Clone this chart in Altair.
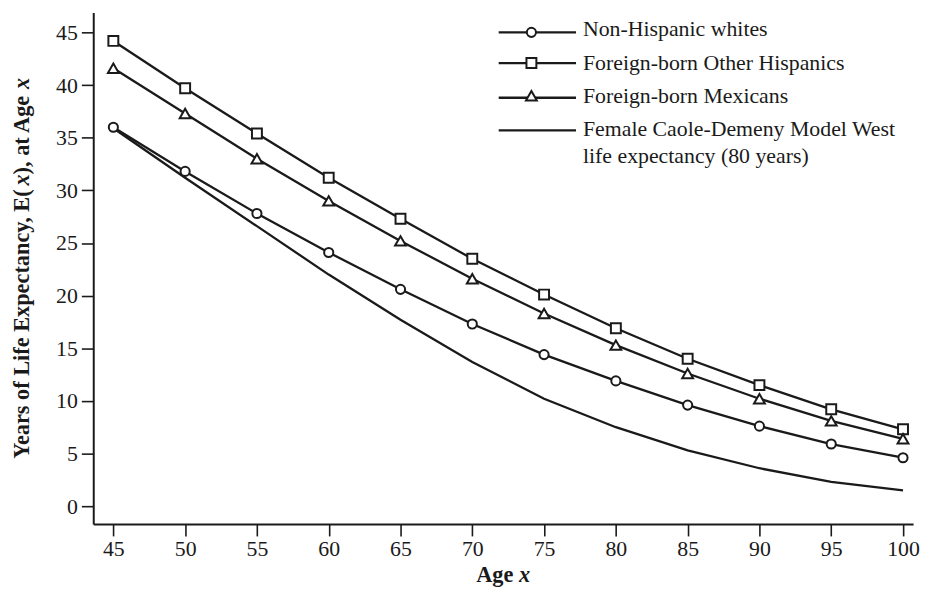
import altair as alt
import pandas as pd

ages = [45, 50, 55, 60, 65, 70, 75, 80, 85, 90, 95, 100]
nh_whites = [36.0, 31.8, 27.8, 24.1, 20.6, 17.3, 14.4, 11.9, 9.6, 7.6, 5.9, 4.6]
fb_other_hisp = [44.2, 39.7, 35.4, 31.2, 27.3, 23.5, 20.1, 16.9, 14.0, 11.5, 9.2, 7.3]
fb_mexicans = [41.6, 37.3, 33.0, 29.0, 25.2, 21.6, 18.3, 15.3, 12.6, 10.2, 8.1, 6.4]
model_west = [35.9, 31.2, 26.6, 22.0, 17.7, 13.7, 10.2, 7.5, 5.3, 3.6, 2.3, 1.5]

series_names = [
    "Non-Hispanic whites",
    "Foreign-born Other Hispanics",
    "Foreign-born Mexicans",
    "Female Caole-Demeny Model West life expectancy (80 years)",
]
series_values = [nh_whites, fb_other_hisp, fb_mexicans, model_west]
series_shapes = ["circle", "square", "triangle-up", None]

rows = []
for name, vals in zip(series_names, series_values):
    for a, v in zip(ages, vals):
        rows.append({"age": a, "ex": v, "series": name})
df = pd.DataFrame(rows)

FONT = "Liberation Serif"
INK = "#1a1a1a"
W, H = 827, 516

xscale = alt.Scale(domain=[43.6, 100.7], nice=False, zero=False)
yscale = alt.Scale(domain=[-1.7, 46.9], nice=False, zero=False)

xenc = alt.X(
    "age:Q",
    scale=xscale,
    axis=alt.Axis(values=ages, title=None, grid=False, tickSize=12,
                  labelPadding=3, labelFlush=False),
)
yenc = alt.Y(
    "ex:Q",
    scale=yscale,
    axis=alt.Axis(values=list(range(0, 50, 5)), title=None, grid=False,
                  tickSize=12, labelPadding=4),
)

lines = alt.Chart(df).mark_line(color=INK, strokeWidth=2.3).encode(
    x=xenc, y=yenc, detail="series:N"
)

sizes = {"circle": 85, "square": 100, "triangle-up": 120}
point_layers = []
for name, shape in zip(series_names, series_shapes):
    if shape is None:
        continue
    point_layers.append(
        alt.Chart(df[df["series"] == name])
        .mark_point(shape=shape, filled=True, fill="white", stroke=INK,
                    strokeWidth=2, size=sizes[shape], opacity=1)
        .encode(x="age:Q", y="ex:Q")
    )

base = alt.Chart(pd.DataFrame({"k": [0]}))

# custom legend (pixel positions inside plot area)
leg_line_x1, leg_line_x2, leg_mark_x, leg_text_x = 409, 487, 442, 494
leg_line_y = [20, 51, 86, 119]
leg_text_y = [24, 58, 91, 125]
leg_labels = [
    ["Non-Hispanic whites"],
    ["Foreign-born Other Hispanics"],
    ["Foreign-born Mexicans"],
    ["Female Caole-Demeny Model West", "life expectancy (80 years)"],
]
legend_layers = []
for i, shape in enumerate(series_shapes):
    legend_layers.append(
        base.mark_rule(color=INK, strokeWidth=2.3).encode(
            x=alt.value(leg_line_x1), x2=alt.value(leg_line_x2), y=alt.value(leg_line_y[i])
        )
    )
    if shape is not None:
        my = leg_line_y[i] - (2 if shape == "triangle-up" else 0)
        legend_layers.append(
            base.mark_point(shape=shape, filled=True, fill="white", stroke=INK,
                            strokeWidth=2, size=sizes[shape], opacity=1).encode(
                x=alt.value(leg_mark_x), y=alt.value(my)
            )
        )
    for j, txt in enumerate(leg_labels[i]):
        legend_layers.append(
            base.mark_text(text=txt, align="left", baseline="alphabetic",
                           font=FONT, fontSize=22, color=INK).encode(
                x=alt.value(leg_text_x), y=alt.value(leg_text_y[i] + 27 * j)
            )
        )

# axis titles with italic "x" (Liberation Serif is metric-compatible with Times)
TFS = 22.5
title_layers = []
x_w_age, x_w_sp, x_w_x = 1.666 * TFS, 0.25 * TFS, 0.5 * TFS
x_start = W / 2 - (x_w_age + x_w_sp + x_w_x) / 2
x_title_y = 574
title_layers.append(
    base.mark_text(text="Age", align="left", baseline="alphabetic", font=FONT,
                   fontSize=TFS, fontWeight="bold", color=INK).encode(
        x=alt.value(x_start), y=alt.value(x_title_y))
)
title_layers.append(
    base.mark_text(text="x", align="left", baseline="alphabetic", font=FONT,
                   fontSize=TFS, fontWeight="bold", fontStyle="italic", color=INK).encode(
        x=alt.value(x_start + x_w_age + x_w_sp), y=alt.value(x_title_y))
)
y_segments = [
    ("Years of Life Expectancy, E(", "normal", 12.248),
    ("x", "italic", 0.5),
    ("), at Age", "normal", 3.582),
    ("x", "italic", 0.5),
]
gap_before_last = 0.25
total_em = sum(s[2] for s in y_segments) + gap_before_last
y_base_x = -65
pos = H / 2 + total_em * TFS / 2
for k, (txt, style, em) in enumerate(y_segments):
    if k == 3:
        pos -= gap_before_last * TFS
    title_layers.append(
        base.mark_text(text=txt, align="left", baseline="alphabetic", angle=270,
                       font=FONT, fontSize=TFS, fontWeight="bold", fontStyle=style,
                       color=INK).encode(x=alt.value(y_base_x), y=alt.value(pos))
    )
    pos -= em * TFS

chart = (
    alt.layer(lines, *point_layers, *legend_layers, *title_layers)
    .properties(width=W, height=H, padding={"left": 2, "top": 2, "right": 0, "bottom": 0})
    .configure_view(stroke=None)
    .configure_axis(
        labelFont=FONT,
        labelFontSize=22,
        labelColor=INK,
        domainColor=INK,
        tickColor=INK,
        domainWidth=2,
        tickWidth=1.6,
    )
)

chart.save("out.html", embed_options={"renderer": "svg", "actions": False})
